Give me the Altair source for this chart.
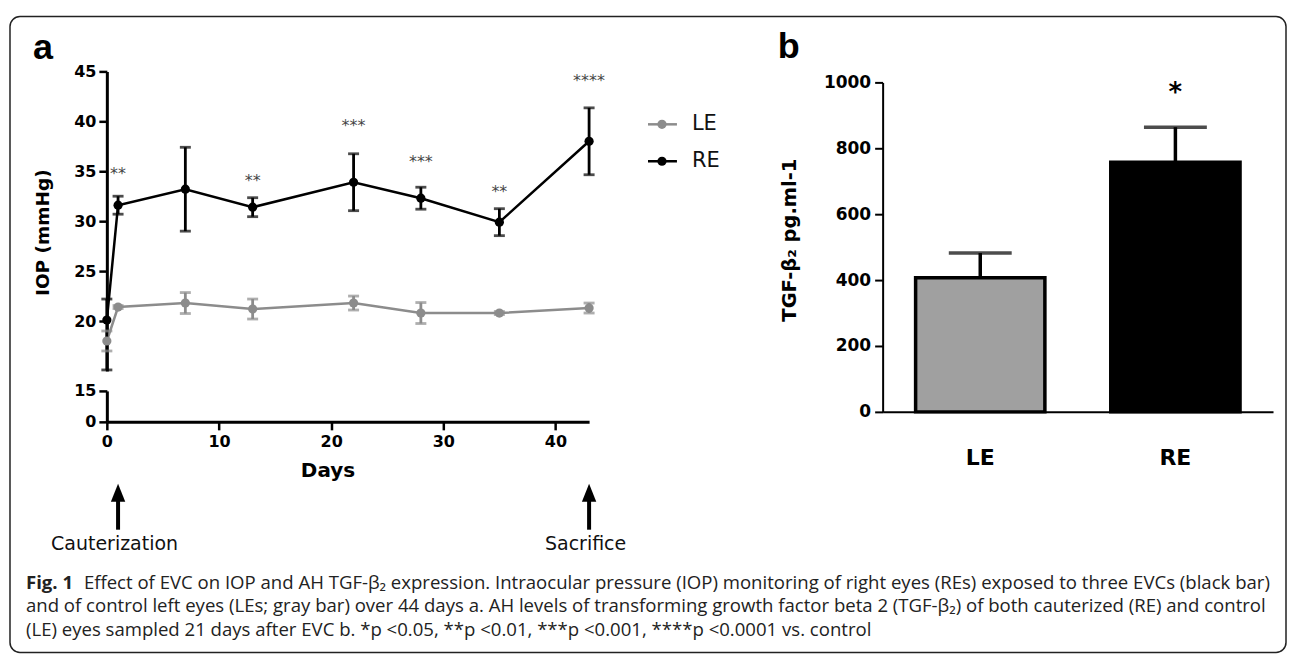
import altair as alt
import pandas as pd

# ---------------- data ----------------
days = [0, 1, 7, 13, 22, 28, 35, 43]
le_mean = [18.0, 21.4, 21.8, 21.2, 21.8, 20.8, 20.8, 21.3]
le_low = [17.0, 21.25, 20.75, 20.2, 21.1, 19.75, 20.65, 20.8]
le_high = [19.0, 21.55, 22.85, 22.2, 22.5, 21.85, 20.95, 21.8]
re_mean = [20.1, 31.6, 33.2, 31.4, 33.9, 32.3, 29.9, 38.0]
re_low = [15.1, 30.7, 29.0, 30.45, 31.05, 31.2, 28.55, 34.65]
re_high = [22.2, 32.5, 37.4, 32.35, 36.75, 33.4, 31.25, 41.35]
series = ["LE", "RE"]
series_colors = ["#8c8c8c", "#000000"]

sig_days = [1, 13, 22, 28, 35, 43]
sig_labels = ["**", "**", "***", "***", "**", "****"]
sig_pos = [35.1, 34.4, 39.9, 36.3, 33.3, 44.4]

event_days = [1, 43]
event_labels = ["Cauterization", "Sacrifice"]

yticks_top = [20, 25, 30, 35, 40, 45]
yticks_low = [0, 15]
xticks = [0, 10, 20, 30, 40]

eyes = ["LE", "RE"]
eye_colors = ["#a0a0a0", "#000000"]
tgf_mean = [407, 758]
tgf_sem = [75, 106]
tgf_sig = ["", "*"]
tgf_sig_pos = [0, 972]
tgf_ticks = [0, 200, 400, 600, 800, 1000]

caption_bold = "Fig. 1"
caption_lines = [
    "Effect of EVC on IOP and AH TGF-β₂ expression. Intraocular pressure (IOP) monitoring of right eyes (REs) exposed to three EVCs (black bar)",
    "and of control left eyes (LEs; gray bar) over 44 days a. AH levels of transforming growth factor beta 2 (TGF-β₂) of both cauterized (RE) and control",
    "(LE) eyes sampled 21 days after EVC b. *p <0.05, **p <0.01, ***p <0.001, ****p <0.0001 vs. control",
]

# ---------------- tables ----------------
iop = pd.concat([
    pd.DataFrame({"day": days, "mean": le_mean, "low": le_low, "high": le_high, "series": "LE"}),
    pd.DataFrame({"day": days, "mean": re_mean, "low": re_low, "high": re_high, "series": "RE"}),
], ignore_index=True)
sig = pd.DataFrame({"day": sig_days, "label": sig_labels, "pos": sig_pos})
events = pd.DataFrame({"day": event_days, "label": event_labels})
low_axis = pd.DataFrame({"day": [0, 0], "v": yticks_low})
tgf = pd.DataFrame({"eye": eyes, "mean": tgf_mean,
                    "high": [m + s for m, s in zip(tgf_mean, tgf_sem)],
                    "sig": tgf_sig, "pos": tgf_sig_pos})
one = pd.DataFrame({"k": [0]})

BOLD = "DejaVu Sans"
CAP = "Open Sans"
CAP_SIZE = 18.6

# ---------------- panel a (top segment) ----------------
xs = alt.Scale(domain=[0, 43], nice=False, zero=False)
ys_top = alt.Scale(domain=[15, 45], nice=False, zero=False)
color = alt.Color("series:N", scale=alt.Scale(domain=series, range=series_colors), legend=None)

ax_common = dict(labelFont=BOLD, labelFontSize=16, labelFontWeight="bold", labelColor="black",
                 tickSize=8, tickWidth=2.5, tickColor="black", domainWidth=3,
                 domainColor="black", grid=False)
ax_top = alt.Axis(values=yticks_top, title="IOP (mmHg)", titleX=-64, titleY=161, titleAngle=270,
                  titleAlign="center", titleBaseline="middle", titleFont=BOLD, titleFontSize=18.5,
                  titleFontWeight="bold", titleColor="black", labelPadding=3, **ax_common)


def Xd():
    return alt.X("day:Q", scale=xs, axis=None)


def Yt(f):
    return alt.Y(f"{f}:Q", scale=ys_top, axis=ax_top)


border = alt.Chart(one).mark_rect(cornerRadius=10, fillOpacity=0, stroke="#222",
                                  strokeWidth=1.5).encode(
    x=alt.value(-97), x2=alt.value(1181), y=alt.value(-55), y2=alt.value(582))
letter_a = alt.Chart(one).mark_text(text="a", font="Liberation Sans", fontSize=36,
                                    fontWeight="bold", align="left",
                                    baseline="alphabetic", color="black").encode(
    x=alt.value(-74), y=alt.value(-12))

lines = alt.Chart(iop).mark_line(strokeWidth=2.5).encode(x=Xd(), y=Yt("mean"), color=color,
                                                          detail="series:N")
err = alt.Chart(iop).mark_rule(strokeWidth=2.8).encode(x=Xd(), y=Yt("low"), y2="high", color=color)
cap_lo = alt.Chart(iop).mark_tick(orient="horizontal", size=11, thickness=2.8).encode(
    x=Xd(), y=Yt("low"), color=color)
cap_hi = alt.Chart(iop).mark_tick(orient="horizontal", size=11, thickness=2.8).encode(
    x=Xd(), y=Yt("high"), color=color)
pts = alt.Chart(iop).mark_circle(size=85, opacity=1).encode(x=Xd(), y=Yt("mean"), color=color)
stars = alt.Chart(sig).mark_text(font="DejaVu Sans", fontSize=16, color="#444444",
                                 baseline="alphabetic", dy=9).encode(
    x=Xd(), y=Yt("pos"), text="label:N")

legend_layers = []
for i, s in enumerate(series):
    ly = 53 + 37 * i
    d = pd.DataFrame({"series": [s]})
    c = series_colors[i]
    legend_layers.append(alt.Chart(d).mark_rule(color=c, strokeWidth=2.5).encode(
        x=alt.value(542), x2=alt.value(571), y=alt.value(ly)))
    legend_layers.append(alt.Chart(d).mark_circle(color=c, size=85, opacity=1).encode(
        x=alt.value(556), y=alt.value(ly)))
    legend_layers.append(alt.Chart(d).mark_text(font="DejaVu Sans", fontSize=21, align="left",
                                                baseline="middle", color="#111").encode(
        x=alt.value(586), y=alt.value(ly), text="series:N"))

a_top = alt.layer(border, letter_a, lines, err, cap_lo, cap_hi, pts, stars,
                  *legend_layers).properties(width=483, height=300)

# ---------------- panel a (bottom segment + x axis) ----------------
ax_x = alt.Axis(values=xticks, title="Days", titleX=221, titleY=49, titleAlign="center",
                titleBaseline="middle", titleFont=BOLD, titleFontSize=20, titleFontWeight="bold",
                titleColor="black", labelPadding=4, labelFlush=False, **ax_common)
ax_low = alt.Axis(values=yticks_low, title=None, labelPadding=3, **ax_common)
xb = alt.X("day:Q", scale=xs, axis=ax_x)

holder = alt.Chart(low_axis).mark_point(opacity=0).encode(
    x=xb, y=alt.Y("v:Q", scale=alt.Scale(domain=[0, 15], nice=False), axis=ax_low))
shaft = alt.Chart(events).mark_rule(color="black", strokeWidth=4).encode(
    x=xb, y=alt.value(104), y2=alt.value(139))
head = alt.Chart(events).mark_point(shape="M0,-1L0.8,1L-0.8,1Z", filled=True, size=324,
                                    color="black", opacity=1).encode(x=xb, y=alt.value(102))
ev_text = alt.Chart(events).mark_text(font="DejaVu Sans", fontSize=19, color="#111",
                                      baseline="middle", dx=-3.5).encode(
    x=xb, y=alt.value(153), text="label:N")

cap_layers = [alt.Chart(one).mark_text(text=caption_bold, font=CAP, fontSize=CAP_SIZE,
                                       fontWeight="bold", align="left", baseline="middle",
                                       color="#222").encode(x=alt.value(-81), y=alt.value(192))]
cap_x = [-23, -81, -81]
cap_y = [192, 215.5, 239]
for i, t in enumerate(caption_lines):
    cap_layers.append(alt.Chart(one).mark_text(text=t, font=CAP, fontSize=CAP_SIZE, align="left",
                                               baseline="middle", color="#222").encode(
        x=alt.value(cap_x[i]), y=alt.value(cap_y[i])))

a_bottom = alt.layer(holder, shaft, head, ev_text, *cap_layers).properties(width=483, height=31)

col_a = alt.vconcat(a_top, a_bottom, spacing=20, bounds="flush")

# ---------------- panel b ----------------
xband = alt.X("eye:N", scale=alt.Scale(domain=eyes, paddingInner=0.3376, paddingOuter=0.169),
              axis=alt.Axis(title=None, labelAngle=0, ticks=False, labelPadding=46,
                            labelFont=BOLD, labelFontSize=22, labelFontWeight="bold",
                            labelColor="black", labelBaseline="middle",
                            domainWidth=2, domainColor="black", grid=False))
ysb = alt.Scale(domain=[0, 1000], range=[341, 11], nice=False)
ax_b = alt.Axis(values=tgf_ticks, format="d", title="TGF-β₂ pg.ml-1", titleX=-93, titleY=168.5,
                titleAngle=270, titleAlign="center", titleBaseline="middle", titleFont=BOLD,
                titleFontSize=19.5, titleFontWeight="bold", titleColor="black",
                labelFont=BOLD, labelFontSize=17, labelFontWeight="bold", labelColor="black",
                labelPadding=4, tickSize=8, tickWidth=2, tickColor="black", domainWidth=2,
                domainColor="black", grid=False)


def Yb(f):
    return alt.Y(f"{f}:Q", scale=ysb, axis=ax_b)


bcolor = alt.Color("eye:N", scale=alt.Scale(domain=eyes, range=eye_colors), legend=None)
bars = alt.Chart(tgf).mark_bar(stroke="black", strokeWidth=3.5).encode(
    x=xband, y=Yb("mean"), color=bcolor)
b_err = alt.Chart(tgf).mark_rule(color="black", strokeWidth=3.5).encode(
    x=xband, y=Yb("mean"), y2="high")
b_cap = alt.Chart(tgf).mark_tick(orient="horizontal", size=63, thickness=3.5,
                                 color="black").encode(x=xband, y=Yb("high"))
b_star = alt.Chart(tgf).mark_text(font="DejaVu Sans", fontSize=26, fontWeight="bold",
                                  color="black", baseline="alphabetic", dy=9).encode(
    x=xband, y=Yb("pos"), text="sig:N")
letter_b = alt.Chart(one).mark_text(text="b", font="Liberation Sans", fontSize=36,
                                    fontWeight="bold", align="left",
                                    baseline="alphabetic", color="black").encode(
    x=alt.value(-105), y=alt.value(-13))

b_chart = alt.layer(bars, b_err, b_cap, b_star, letter_b).properties(width=391, height=341)

chart = alt.hconcat(col_a, b_chart, spacing=777, bounds="flush").resolve_scale(
    color="independent"
).properties(
    padding={"left": 1, "top": 7, "right": 0, "bottom": 0}
).configure(font="DejaVu Sans").configure_view(stroke=None)

chart.save("out.html", embed_options={"renderer": "svg", "actions": False})
